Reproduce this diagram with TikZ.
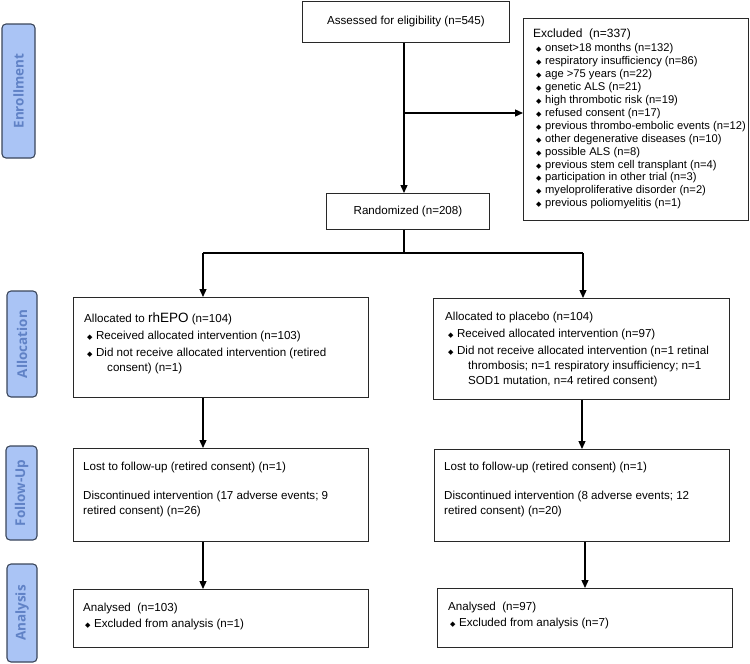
\documentclass[tikz,border=0pt]{standalone}
\usepackage{fontspec}
\setmainfont{Liberation Sans}
\newfontfamily\sidefont{Open Sans}
\newfontfamily\symfont{DejaVu Sans}
\usetikzlibrary{arrows.meta}
\definecolor{sidefill}{RGB}{170,196,245}
\definecolor{sideline}{RGB}{58,70,90}
\definecolor{sidetext}{RGB}{96,130,198}
\definecolor{boxline}{RGB}{40,40,40}
\newcommand\bul{{\symfont\fontsize{7}{7}\selectfont ◆}}
\newcommand\itm{\hspace*{3pt}\bul\hspace{3.5pt}}
\begin{document}
\begin{tikzpicture}[x=1pt,y=-1pt,
  side/.style={draw=sideline, fill=sidefill, rounded corners=4pt, line width=1.1pt, rotate=90,
    text=sidetext, font=\sidefont\bfseries\fontsize{13.5}{14}\selectfont, inner sep=0pt},
  box/.style={draw=boxline, line width=0.9pt, anchor=north west, inner sep=0pt,
    font=\fontsize{11.6}{15}\selectfont},
  txt/.style={anchor=north west, align=left, inner sep=0pt, font=\fontsize{11.6}{15}\selectfont},
  arr/.style={draw=black, line width=1.3pt, -{Triangle[length=8pt,width=7pt]}},
  ln/.style={draw=black, line width=1.3pt}]
\path[use as bounding box] (0,0) rectangle (750,664);

% side labels
\node[side, minimum width=134, minimum height=33] (enr) at (18.5,91) {Enrollment};
\node[side, minimum width=106, minimum height=30] (alc) at (22,344) {Allocation};
\node[side, minimum width=94, minimum height=31] (fol) at (21.5,493) {Follow-Up};
\node[side, minimum width=98, minimum height=30] (ana) at (22,613) {Analysis};

% enrollment
\node[box, minimum width=207, minimum height=41] (assess) at (302,1) {Assessed for eligibility (n=545)};
\node[box, minimum width=163, minimum height=36] (rand) at (326,193) {Randomized (n=208)};
\node[box, minimum width=225, minimum height=202] (excl) at (523,18) {};
\node[txt, font=\fontsize{11.2}{12.9}\selectfont] (exclt) at (533,29) {%
{\fontsize{12}{12.9}\selectfont Excluded\ \ (n=337)}\\[1.2pt]
\itm onset>18 months (n=132)\\
\itm respiratory insufficiency (n=86)\\
\itm age >75 years (n=22)\\
\itm genetic ALS (n=21)\\
\itm high thrombotic risk (n=19)\\
\itm refused consent (n=17)\\
\itm previous thrombo-embolic events (n=12)\\
\itm other degenerative diseases (n=10)\\
\itm possible ALS (n=8)\\
\itm previous stem cell transplant (n=4)\\
\itm participation in other trial (n=3)\\
\itm myeloproliferative disorder (n=2)\\
\itm previous poliomyelitis (n=1)};

% allocation
\node[box, minimum width=295, minimum height=100] (allocL) at (73,297) {};
\node[txt] (allocLt) at (84,312.5) {%
Allocated to {\fontsize{13.5}{15}\selectfont rhEPO} (n=104)\\[2pt]
\itm Received allocated intervention (n=103)\\[2pt]
\itm Did not receive allocated intervention (retired\\
\hspace*{23pt}consent) (n=1)};
\node[box, minimum width=296, minimum height=101] (allocR) at (433,298) {};
\node[txt] (allocRt) at (445,311.5) {%
Allocated to placebo (n=104)\\[2pt]
\itm Received allocated intervention (n=97)\\[2pt]
\itm Did not receive allocated intervention (n=1 retinal\\
\hspace*{23pt}thrombosis; n=1 respiratory insufficiency; n=1\\
\hspace*{23pt}SOD1 mutation, n=4 retired consent)};

% follow-up
\node[box, minimum width=295, minimum height=93] (followL) at (73,448) {};
\node[txt] (followLt) at (83,461.5) {%
Lost to follow-up (retired consent) (n=1)\\[14pt]
Discontinued intervention (17 adverse events; 9\\
retired consent) (n=26)};
\node[box, minimum width=295, minimum height=92] (followR) at (434,449) {};
\node[txt] (followRt) at (444,461.5) {%
Lost to follow-up (retired consent) (n=1)\\[14pt]
Discontinued intervention (8 adverse events; 12\\
retired consent) (n=20)};

% analysis
\node[box, minimum width=295, minimum height=58] (analL) at (73,589) {};
\node[txt] (analLt) at (83,602.5) {%
Analysed\ \ (n=103)\\[1pt]
\hspace*{-1pt}\itm Excluded from analysis (n=1)};
\node[box, minimum width=295, minimum height=59] (analR) at (437,588) {};
\node[txt] (analRt) at (448,602) {%
Analysed\ \ (n=97)\\[1pt]
\hspace*{-1pt}\itm Excluded from analysis (n=7)};

% connectors
\coordinate (spine) at (404,113);
\coordinate (brL) at (203,253);
\coordinate (brR) at (583,253);
\coordinate (colL) at (203,0);
\coordinate (colR1) at (582,0);
\coordinate (colR2) at (585,0);
\draw[arr] (assess.south -| spine) -- (rand.north -| spine);
\draw[arr] (spine) -- (excl.west |- spine);
\draw[ln] (rand.south -| spine) -- (spine |- brL);
\draw[ln] (brL) -- (brR);
\draw[arr] (brL) -- (allocL.north -| brL);
\draw[arr] (brR) -- (allocR.north -| brR);
\draw[arr] (allocL.south -| colL) -- (followL.north -| colL);
\draw[arr] (followL.south -| colL) -- (analL.north -| colL);
\draw[arr] (allocR.south -| colR1) -- (followR.north -| colR1);
\draw[arr] (followR.south -| colR2) -- (analR.north -| colR2);
\end{tikzpicture}
\end{document}
